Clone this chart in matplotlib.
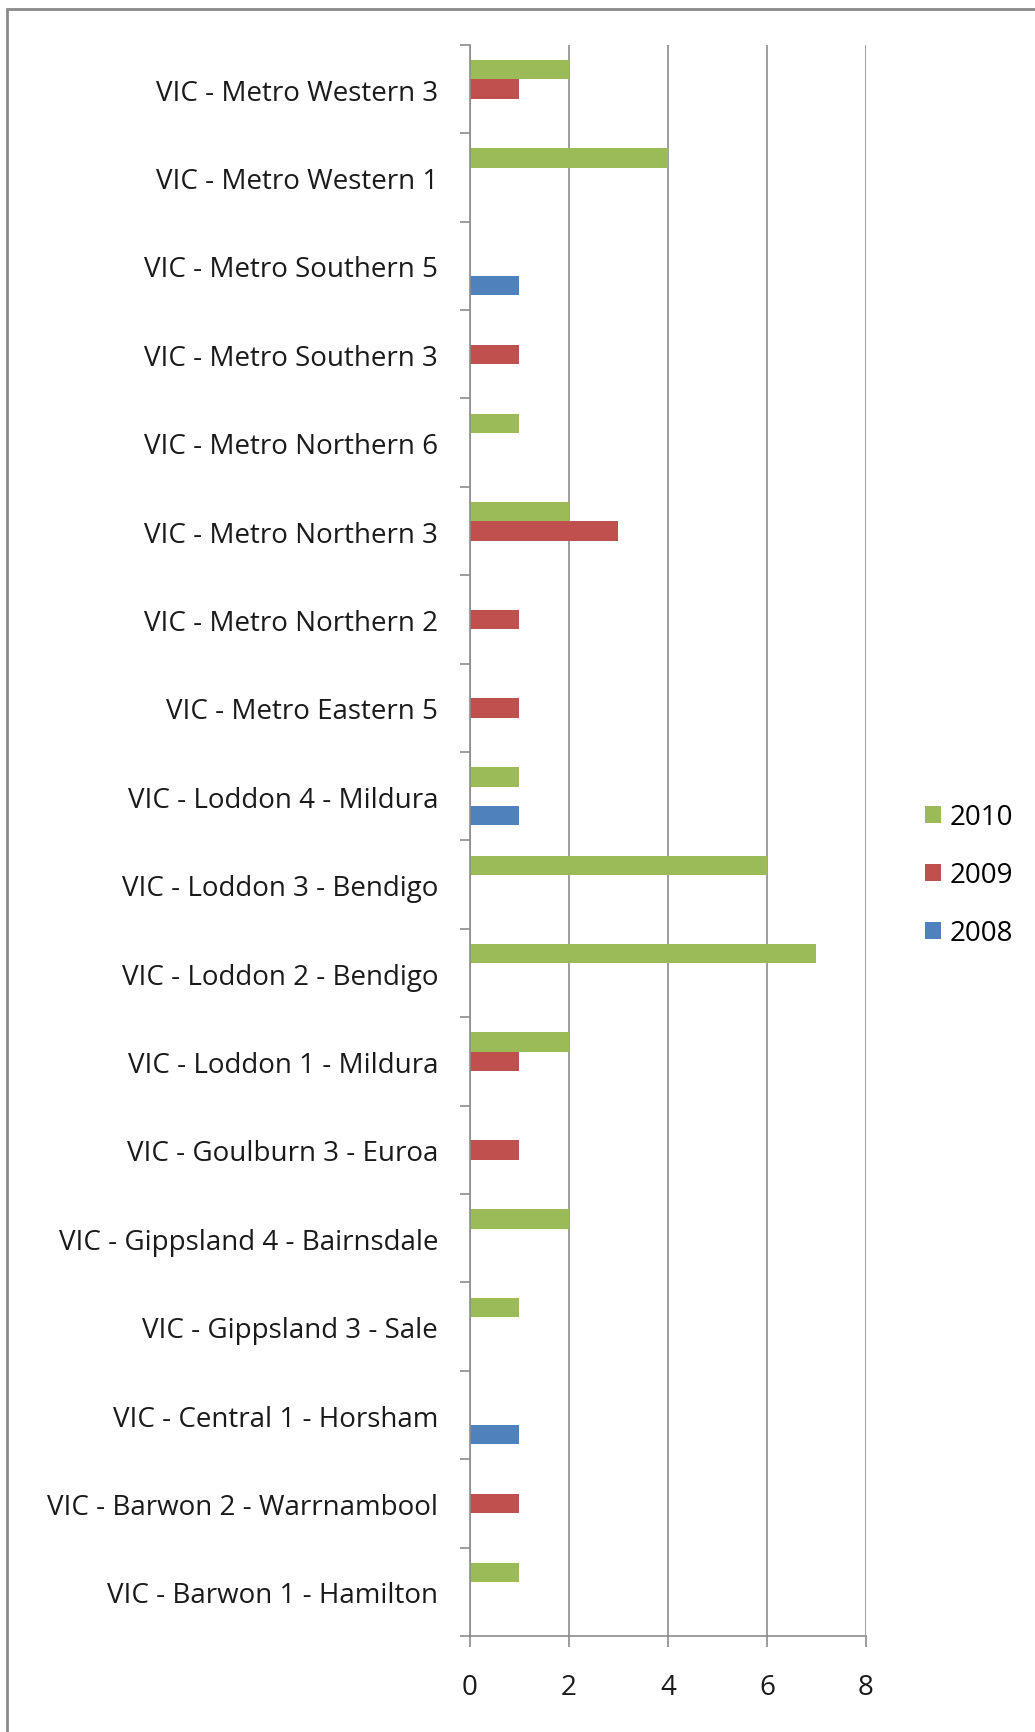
import numpy as np
import matplotlib
matplotlib.use("Agg")
import matplotlib.pyplot as plt
from matplotlib.patches import Rectangle

plt.rcParams['font.family'] = ['Open Sans', 'DejaVu Sans']

# categories listed bottom to top, the way Excel draws them
categories = [
    "VIC - Barwon 1 - Hamilton",
    "VIC - Barwon 2 - Warrnambool",
    "VIC - Central 1 - Horsham",
    "VIC - Gippsland 3 - Sale",
    "VIC - Gippsland 4 - Bairnsdale",
    "VIC - Goulburn 3 - Euroa",
    "VIC - Loddon 1 - Mildura",
    "VIC - Loddon 2 - Bendigo",
    "VIC - Loddon 3 - Bendigo",
    "VIC - Loddon 4 - Mildura",
    "VIC - Metro Eastern 5",
    "VIC - Metro Northern 2",
    "VIC - Metro Northern 3",
    "VIC - Metro Northern 6",
    "VIC - Metro Southern 3",
    "VIC - Metro Southern 5",
    "VIC - Metro Western 1",
    "VIC - Metro Western 3",
]
vals_2008 = [0, 0, 1, 0, 0, 0, 0, 0, 0, 1, 0, 0, 0, 0, 0, 1, 0, 0]
vals_2009 = [0, 1, 0, 0, 0, 1, 1, 0, 0, 0, 1, 1, 3, 0, 1, 0, 0, 1]
vals_2010 = [1, 0, 0, 1, 2, 0, 2, 7, 6, 1, 0, 0, 2, 1, 0, 0, 4, 2]
x_ticks = [0, 2, 4, 6, 8]

blue = "#4F81BD"
red = "#C0504D"
green = "#9BBB59"
grey = "#8C8C8C"

fig = plt.figure(figsize=(10.35, 17.33), dpi=100)
ax = fig.add_axes([0.4541, 0.0554, 0.3826, 0.9181])

y = np.arange(len(categories))
h = 0.219
ax.barh(y - h, vals_2008, height=h, color=blue, label="2008")
ax.barh(y, vals_2009, height=h, color=red, label="2009")
ax.barh(y + h, vals_2010, height=h, color=green, label="2010")

ax.set_xlim(0, 8)
ax.set_ylim(-0.5, len(categories) - 0.5)
ax.set_xticks(x_ticks)
ax.xaxis.grid(True, color=grey, linewidth=1.2)
ax.set_axisbelow(True)

ax.set_yticks(y)
ax.set_yticklabels(categories, fontsize=20, color="#1a1a1a")
ax.set_yticks(np.arange(len(categories) + 1) - 0.5, minor=True)
ax.tick_params(axis='y', which='major', length=0, pad=23)
ax.tick_params(axis='y', which='minor', length=7, color=grey, width=1.2)
ax.tick_params(axis='x', length=8, color=grey, width=1.2, pad=19,
               labelsize=20, labelcolor="#1a1a1a")

for s in ['top', 'right']:
    ax.spines[s].set_visible(False)
for s in ['left', 'bottom']:
    ax.spines[s].set_color(grey)
    ax.spines[s].set_linewidth(1.2)

handles, labels = ax.get_legend_handles_labels()
ax.legend(handles[::-1], labels[::-1], loc='center left',
          bbox_to_anchor=(1.086, 0.478), frameon=False, fontsize=20,
          handlelength=0.56, handleheight=0.56, handletextpad=0.32,
          labelspacing=1.08)

# outer chart frame
fig.patches.append(Rectangle((0.0065, -0.02), 1.1, 1.014, transform=fig.transFigure,
                             fill=False, edgecolor="#8a8a8a", linewidth=2))

fig.savefig("out.png", dpi=100)
